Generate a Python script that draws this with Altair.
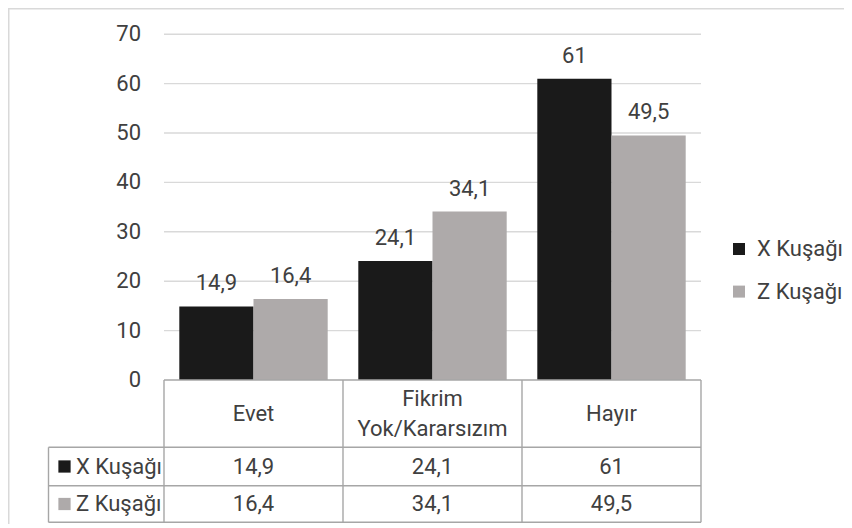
import altair as alt
import pandas as pd

# ---------------- data ----------------
categories = ["Evet", "Fikrim\nYok/Kararsızım", "Hayır"]
series = ["X Kuşağı", "Z Kuşağı"]
x_kusagi = [14.9, 24.1, 61]
z_kusagi = [16.4, 34.1, 49.5]
y_ticks = [0, 10, 20, 30, 40, 50, 60, 70]
colors = ["#1a1a1a", "#aeaaaa"]

# ---------------- layout constants (page pixels -> data units) ----------------
W, H = 836, 516
ORIGIN = 8
COL0 = 164.0        # left edge of first category column
COL_W = 179.0       # width of a category column
ZERO_Y = 380.0      # pixel row of value 0
PPU = 4.94          # pixels per value unit
LINE_H = 30         # line height of wrapped category names

x_min = (ORIGIN - COL0) / COL_W
x_max = (ORIGIN + W - COL0) / COL_W
y_max = (ZERO_Y - ORIGIN) / PPU
y_min = -(ORIGIN + H - ZERO_Y) / PPU

hdr_left = (48.5 - COL0) / COL_W
r_head = -(447.3 - ZERO_Y) / PPU
r_x = -(485.7 - ZERO_Y) / PPU
r_z = -(522.3 - ZERO_Y) / PPU
row_bounds = [(r_head, r_x), (r_x, r_z)]
gap = 0.0855
bw = 0.4145
n = len(categories)
tick_x = (141.0 - COL0) / COL_W

TXT = "#404040"
FONT = "Roboto"
FS = 22

xs = alt.Scale(domain=[x_min, x_max], nice=False, zero=False)
ys = alt.Scale(domain=[y_min, y_max], nice=False, zero=False)


def X(f):
    return alt.X(f, type="quantitative", scale=xs, axis=None)


def Y(f):
    return alt.Y(f, type="quantitative", scale=ys, axis=None)


def lab(v):
    return f"{v:g}".replace(".", ",")


values = [x_kusagi, z_kusagi]
rows = []
for i, c in enumerate(categories):
    for s, ser in enumerate(series):
        x0 = i + gap + s * bw
        rows.append({"cat": c, "series": ser, "value": values[s][i],
                     "x": x0, "x2": x0 + bw, "xc": x0 + bw / 2,
                     "label": lab(values[s][i])})
bars_df = pd.DataFrame(rows)

color = alt.Color("series:N", scale=alt.Scale(domain=series, range=colors),
                  legend=alt.Legend(orient="none", legendX=720, legendY=230, title=None,
                                    symbolType="square", symbolSize=144, symbolStrokeWidth=0,
                                    labelFont=FONT, labelFontSize=FS, labelColor=TXT,
                                    rowPadding=20.6, labelOffset=7, padding=0))

# value axis: gridlines and tick labels
grid_df = pd.DataFrame({"y": y_ticks[1:], "x": 0.0, "x2": float(n)})
grid = alt.Chart(grid_df).mark_rule(color="#d9d9d9", strokeWidth=1.4).encode(
    x=X("x"), x2="x2", y=Y("y"))
tick_df = pd.DataFrame({"y": y_ticks, "x": tick_x, "t": [str(t) for t in y_ticks]})
tick_labels = alt.Chart(tick_df).mark_text(
    align="right", baseline="middle", fontSize=FS, font=FONT, color=TXT).encode(
    x=X("x"), y=Y("y"), text="t:N")

bars = alt.Chart(bars_df).mark_bar().encode(
    x=X("x"), x2="x2", y=Y("value"), y2=alt.datum(0), color=color)

bar_labels = alt.Chart(bars_df).mark_text(
    dy=-23, baseline="middle", fontSize=FS, font=FONT, color=TXT).encode(
    x=X("xc"), y=Y("value"), text="label:N")

# ---- data table ----
head_center = (0 + r_head) / 2
head_df = pd.DataFrame({
    "cat": categories,
    "x": [i + 0.5 for i in range(n)],
    "y": [head_center + (c.count("\n") * LINE_H / 2) / PPU for c in categories]})
head = alt.Chart(head_df).mark_text(
    lineBreak="\n", lineHeight=LINE_H, baseline="middle", fontSize=FS, font=FONT,
    color=TXT).encode(x=X("x"), y=Y("y"), text="cat:N")

cell_rows = []
for s, ser in enumerate(series):
    yc = sum(row_bounds[s]) / 2
    for i in range(n):
        cell_rows.append({"series": ser, "x": i + 0.5, "y": yc, "label": lab(values[s][i])})
cells_df = pd.DataFrame(cell_rows)
cells = alt.Chart(cells_df).mark_text(
    baseline="middle", fontSize=FS, font=FONT, color=TXT).encode(
    x=X("x"), y=Y("y"), text="label:N")

rh_df = pd.DataFrame({"series": series,
                      "y": [sum(b) / 2 for b in row_bounds],
                      "xs": (64.5 - COL0) / COL_W,
                      "xt": (76.0 - COL0) / COL_W})
rh_sq = alt.Chart(rh_df).mark_square(size=150, opacity=1).encode(
    x=X("xs"), y=Y("y"),
    color=alt.Color("series:N", scale=alt.Scale(domain=series, range=colors), legend=None))
rh_tx = alt.Chart(rh_df).mark_text(
    align="left", baseline="middle", fontSize=FS, font=FONT, color=TXT).encode(
    x=X("xt"), y=Y("y"), text="series:N")

h_df = pd.DataFrame({"y": [0, r_head, r_x, r_z],
                     "x": [0, hdr_left, hdr_left, hdr_left],
                     "x2": [float(n)] * 4})
v_df = pd.DataFrame({"x": [hdr_left] + [float(i) for i in range(n + 1)],
                     "y": [r_z] * (n + 2),
                     "y2": [r_head] + [0.0] * (n + 1)})
tcol = "#a6a6a6"
h_lines = alt.Chart(h_df).mark_rule(color=tcol, strokeWidth=1.4).encode(
    x=X("x"), x2="x2", y=Y("y"))
v_lines = alt.Chart(v_df).mark_rule(color=tcol, strokeWidth=1.4).encode(
    x=X("x"), y=Y("y"), y2="y2")

# ---- chart-area border (top and left edges) ----
b_top = alt.Chart(pd.DataFrame({"y": [y_max], "x": [x_min], "x2": [x_max]})).mark_rule(
    color="#d9d9d9", strokeWidth=3).encode(x=X("x"), x2="x2", y=Y("y"))
b_left = alt.Chart(pd.DataFrame({"x": [x_min], "y": [y_min], "y2": [y_max]})).mark_rule(
    color="#d9d9d9", strokeWidth=3).encode(x=X("x"), y=Y("y"), y2="y2")

chart = alt.layer(
    grid, tick_labels, bars, bar_labels, h_lines, v_lines, head, cells, rh_sq, rh_tx,
    b_top, b_left
).properties(
    width=W, height=H, padding=0, autosize=alt.AutoSizeParams(type="none")
).configure_view(stroke=None).configure(font=FONT)

chart.save("out.html", embed_options={"renderer": "svg", "actions": False})
